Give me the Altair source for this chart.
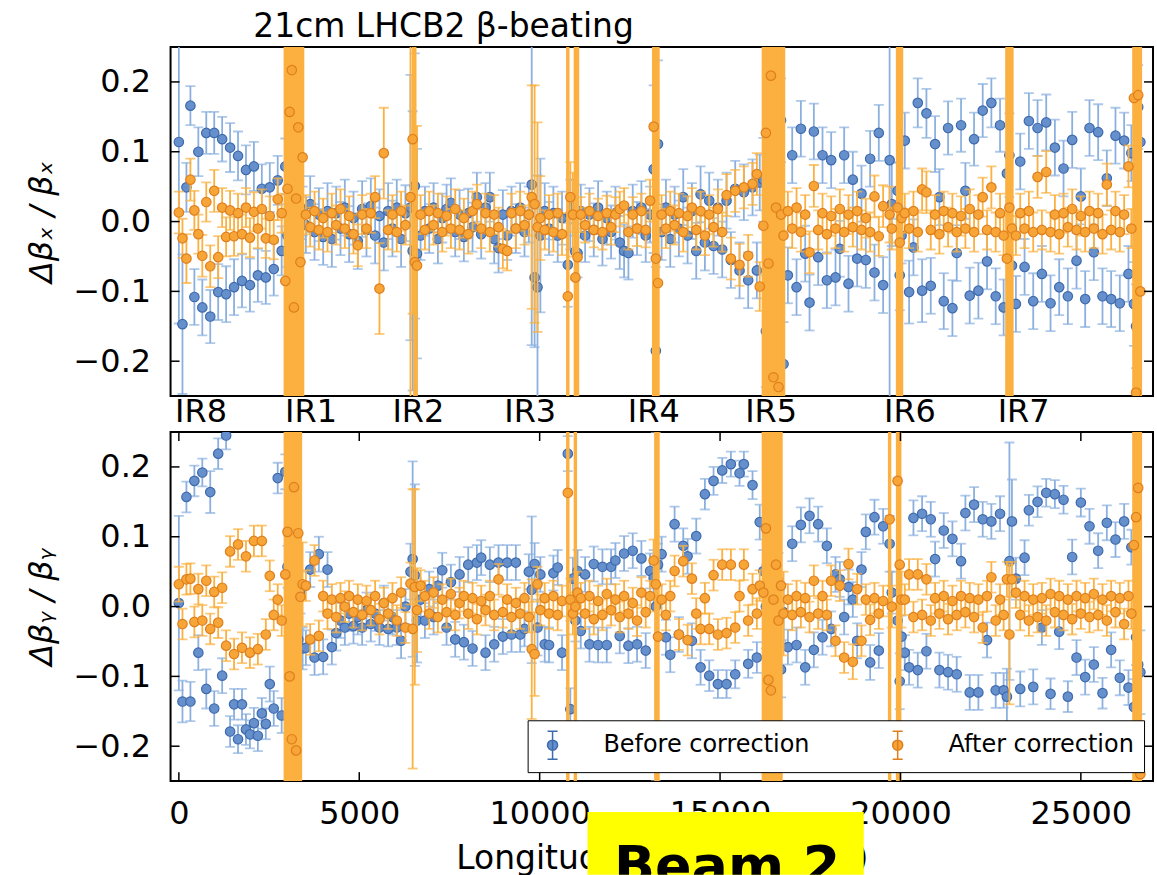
import altair as alt
import pandas as pd

FONT = "DejaVu Sans"

# BPM longitudinal positions (m), grouped by region
S = [
    # arc IR8 -> IR1
    0, 100, 210, 320, 430, 540, 650, 760, 870, 980, 1090, 1200, 1310, 1420, 1530, 1640, 1750, 1860, 1970, 2080, 2190, 2300, 2410, 2520, 2630, 2740, 2850,
    # IR1
    2950, 3010, 3070, 3130, 3190, 3250, 3310, 3370, 3430,
    # arc 1-2
    3520, 3640, 3760, 3880, 4000, 4120, 4240, 4360, 4480, 4600, 4720, 4840, 4960, 5080, 5200, 5320, 5440, 5560, 5680, 5800, 5920, 6040, 6160, 6280,
    # IR2
    6420, 6480, 6540, 6600,
    # arc 2-3
    6700, 6820, 6940, 7060, 7180, 7300, 7420, 7540, 7660, 7780, 7900, 8020, 8140, 8260, 8380, 8500, 8620, 8740, 8860, 8980, 9100, 9220, 9340, 9460, 9580, 9700, 9780, 9860, 9940, 10020, 10140, 10260, 10380, 10500, 10620,
    # IR3
    10780, 10850, 10920, 10990, 11050,
    # arc 3-4
    11140, 11260, 11380, 11500, 11620, 11740, 11860, 11980, 12100, 12220, 12340, 12460, 12580, 12700, 12820, 12940, 13060,
    # IR4
    13160, 13220, 13280,
    # arc 4-5
    13380, 13500, 13620, 13740, 13860, 13980, 14100, 14220, 14340, 14460, 14580, 14700, 14820, 14940, 15060, 15180, 15300, 15420, 15540, 15660, 15780, 15900, 16020, 16100,
    # IR5
    16200, 16270, 16340, 16410, 16480, 16550, 16620, 16690, 16760,
    # arc 5-6
    16880, 17000, 17120, 17240, 17360, 17480, 17600, 17720, 17840, 17960, 18080, 18200, 18320, 18440, 18560, 18680, 18800, 18920, 19040, 19160, 19280, 19400, 19520,
    # IR6
    19700, 19760, 19920, 19980, 20030,
    # arc 6-7
    20120, 20240, 20360, 20480, 20600, 20720, 20840, 20960, 21080, 21200, 21320, 21440, 21560, 21680, 21800, 21920, 22040, 22160, 22280, 22400, 22520, 22640, 22760, 22860,
    # IR7
    22950, 23020, 23090,
    # arc 7-8
    23200, 23320, 23440, 23560, 23680, 23800, 23920, 24040, 24160, 24280, 24400, 24520, 24640, 24760, 24880, 25000, 25120, 25240, 25360, 25480, 25600, 25720, 25840, 25960, 26080, 26200, 26320, 26400,
    # IR8
    26470, 26530, 26590, 26650,
]

# ---- horizontal plane, before correction (value, error in 1e-3)
BX = [
    0.114, -0.147, 0.049, 0.166, -0.108, 0.100, -0.123, 0.127, -0.136, 0.127, -0.101, 0.118, -0.104, 0.106, -0.094, 0.094, -0.085, 0.074, -0.091, 0.079, -0.077, 0.047, -0.080, 0.049, -0.068, 0.059, -0.042,
    0.079, -0.020, 0.116, 0.084, -0.095, 0.077, -0.096, 0.020, 0.015,
    -0.005, 0.025, -0.015, 0.010, -0.022, 0.015, -0.025, 0.012, -0.010, 0.020, -0.018, 0.005, -0.028, 0.018, -0.012, 0.022, -0.020, 0.008, -0.030, 0.015, -0.010, 0.020, -0.025, 0.012,
    0.020, -0.042, 0.051, -0.046,
    -0.020, 0.015, -0.010, 0.020, -0.025, 0.005, 0.018, 0.027, -0.015, 0.010, -0.022, 0.012, -0.008, 0.035, -0.018, 0.020, 0.035, -0.025, -0.038, 0.010, -0.020, 0.015, -0.010, 0.020, -0.015, 0.010, 0.053, -0.080, -0.094, -0.020, 0.015, -0.010, 0.012, -0.020, 0.005,
    -0.062, 0.010, 0.020, -0.043, -0.045,
    0.015, -0.020, 0.010, -0.012, 0.020, -0.025, 0.005, -0.015, 0.012, -0.030, -0.042, -0.045, 0.015, -0.010, 0.020, -0.020, 0.010,
    0.075, -0.185, 0.111,
    -0.015, 0.020, -0.025, 0.010, -0.010, 0.035, -0.020, 0.015, -0.042, 0.039, -0.030, 0.030, -0.035, 0.020, -0.040, 0.030, -0.055, 0.047, -0.070, 0.042, -0.084, 0.049, -0.070, 0.056,
    0.060, -0.157, 0.020, -0.247, -0.030, 0.154, -0.187, 0.145, -0.204,
    -0.077, 0.095, -0.094, 0.133, -0.046, -0.116, 0.129, -0.051, 0.095, -0.084, 0.088, -0.080, -0.039, 0.095, -0.089, 0.060, -0.053, 0.040, -0.055, 0.090, -0.073, 0.127, -0.091,
    0.088, 0.025, 0.044, -0.077, -0.020,
    0.116, -0.101, -0.037, 0.170, -0.099, 0.155, -0.092, 0.111, 0.035, -0.114, 0.134, -0.124, -0.045, 0.138, 0.044, -0.106, 0.118, -0.099, 0.159, -0.057, 0.170, -0.107, 0.138, -0.123,
    0.069, 0.095, -0.063,
    -0.118, 0.086, -0.065, 0.144, -0.114, 0.134, -0.075, 0.142, -0.117, 0.106, -0.094, 0.076, -0.107, 0.117, -0.056, 0.036, -0.111, 0.134, -0.044, 0.128, -0.107, 0.062, -0.111, 0.123, -0.117, 0.116, -0.075, 0.098,
    -0.118, -0.150, 0.164, 0.114,
]
BX_ERR = [
    260, 100, 35, 28, 40, 35, 40, 30, 38, 30, 40, 32, 40, 35, 40, 35, 38, 35, 38, 35, 38, 35, 38, 35, 38, 35, 35,
    40, 45, 60, 50, 60, 45, 50, 45, 35,
    40, 40, 40, 38, 40, 40, 40, 38, 38, 40, 40, 38, 40, 40, 38, 40, 40, 38, 40, 40, 40, 40, 40, 40,
    190, 200, 190, 150,
    35, 35, 35, 35, 35, 35, 35, 35, 35, 35, 35, 35, 35, 35, 35, 35, 35, 35, 35, 35, 35, 35, 35, 35, 35, 40, 230, 100, 160, 110, 40, 38, 38, 38, 38,
    60, 50, 40, 40, 35,
    38, 38, 38, 38, 38, 38, 38, 38, 38, 38, 38, 38, 38, 38, 38, 38, 40,
    120, 120, 120,
    40, 40, 40, 40, 40, 40, 40, 40, 40, 40, 40, 40, 40, 40, 40, 40, 40, 40, 40, 40, 40, 40, 40, 40,
    60, 80, 80, 60, 60, 80, 70, 60, 60,
    40, 40, 40, 40, 40, 40, 40, 40, 40, 40, 40, 40, 40, 40, 40, 40, 40, 40, 40, 40, 40, 40, 40,
    500, 60, 40, 50, 40,
    40, 45, 40, 35, 45, 35, 40, 40, 40, 40, 38, 40, 40, 38, 40, 40, 38, 40, 38, 40, 35, 40, 38, 40,
    400, 60, 60,
    40, 40, 40, 40, 40, 40, 40, 40, 40, 40, 40, 40, 40, 40, 40, 40, 40, 40, 40, 40, 40, 40, 40, 40, 40, 40, 40, 40,
    60, 60, 60, 500,
]

# ---- horizontal plane, after correction
AX = [
    0.013, -0.024, -0.053, 0.060, 0.016, -0.018, -0.049, 0.028, -0.064, 0.044, -0.051, 0.020, -0.022, 0.016, -0.021, 0.012, -0.018, 0.020, -0.023, 0.014, -0.010, 0.018, -0.024, 0.008, -0.026, 0.032, 0.012,
    -0.085, 0.047, 0.157, 0.217, -0.123, 0.033, 0.135, -0.058, 0.092,
    0.010, -0.008, 0.015, -0.012, 0.005, -0.015, 0.012, -0.005, 0.018, -0.010, 0.008, -0.018, -0.034, 0.010, -0.010, 0.012, 0.035, -0.096, 0.098, -0.012, 0.010, -0.015, 0.015, -0.005,
    0.035, 0.118, -0.058, -0.063,
    0.010, -0.012, 0.015, -0.005, 0.012, -0.015, 0.008, -0.010, 0.018, -0.012, 0.005, -0.018, 0.015, 0.025, -0.010, 0.012, -0.015, 0.010, -0.008, -0.039, -0.042, 0.012, -0.010, 0.015, -0.005, 0.010, 0.035, 0.025, -0.008, 0.005, -0.012, 0.010, -0.015, 0.012, -0.018,
    -0.107, 0.035, 0.010, -0.080, -0.051,
    0.010, -0.005, 0.015, -0.012, 0.008, -0.015, 0.012, -0.008, 0.010, 0.018, 0.023, -0.015, 0.010, -0.010, 0.015, -0.012, 0.030,
    0.136, -0.053, -0.088,
    0.010, -0.010, 0.015, -0.005, 0.012, -0.015, 0.008, 0.020, -0.012, 0.015, -0.020, 0.010, -0.008, 0.018, -0.015, 0.038, -0.053, 0.044, -0.062, 0.049, -0.049, 0.054, 0.068, -0.093,
    -0.006, 0.127, -0.060, 0.209, -0.223, 0.020, -0.237, 0.010, -0.020,
    0.015, -0.010, 0.020, -0.015, 0.010, -0.044, 0.051, -0.012, 0.012, -0.018, 0.008, -0.010, 0.018, -0.015, 0.010, -0.008, 0.015, -0.012, 0.005, -0.015, 0.036, -0.021, 0.022,
    0.010, -0.010, 0.020, -0.030, 0.005,
    0.012, -0.010, 0.015, -0.015, 0.046, 0.042, -0.012, 0.010, -0.018, 0.015, -0.008, 0.012, -0.015, 0.008, -0.010, 0.018, -0.015, 0.010, 0.035, -0.012, 0.049, -0.015, 0.012, -0.020,
    -0.053, 0.020, -0.010,
    -0.020, 0.012, -0.010, 0.015, -0.015, 0.064, -0.012, 0.071, -0.015, 0.010, -0.018, 0.012, -0.008, 0.018, -0.012, 0.008, -0.015, 0.015, -0.010, 0.012, -0.018, 0.053, -0.012, 0.015, -0.015, 0.010, 0.079, -0.010,
    0.177, -0.245, 0.181, -0.100,
]
AX_ERR = [
    30, 28, 35, 30, 28, 28, 30, 28, 30, 30, 30, 28, 28, 28, 28, 28, 28, 28, 28, 28, 28, 28, 28, 28, 28, 30, 28,
    900, 900, 900, 900, 900, 900, 900, 900, 900,
    28, 28, 28, 28, 28, 28, 28, 28, 28, 28, 28, 28, 30, 28, 28, 28, 30, 65, 65, 28, 28, 28, 28, 28,
    300, 250, 500, 200,
    28, 28, 28, 28, 28, 28, 28, 28, 28, 28, 28, 28, 28, 28, 28, 28, 28, 28, 28, 28, 28, 28, 28, 28, 28, 30, 160, 170, 150, 60, 28, 28, 28, 28, 30,
    900, 50, 60, 900, 900,
    25, 25, 25, 25, 25, 25, 25, 25, 25, 25, 25, 25, 25, 25, 25, 25, 30,
    900, 900, 900,
    28, 28, 28, 28, 28, 28, 28, 28, 28, 28, 28, 28, 28, 28, 28, 30, 30, 30, 30, 30, 30, 30, 30, 35,
    900, 900, 900, 900, 900, 900, 900, 900, 900,
    28, 28, 28, 28, 28, 30, 30, 28, 28, 28, 28, 28, 28, 28, 28, 28, 28, 28, 28, 28, 30, 28, 30,
    40, 30, 900, 900, 900,
    28, 28, 28, 28, 30, 30, 28, 28, 28, 28, 28, 28, 28, 28, 28, 28, 28, 28, 28, 28, 30, 28, 28, 28,
    900, 900, 900,
    28, 28, 28, 28, 28, 30, 28, 30, 28, 28, 28, 28, 28, 28, 28, 28, 28, 28, 28, 28, 28, 30, 28, 28, 28, 28, 30, 28,
    900, 900, 900, 900,
]

# ---- vertical plane, before correction
BY = [
    0.005, -0.136, 0.157, -0.136, 0.180, -0.066, 0.192, -0.118, 0.164, -0.146, 0.219, -0.099, 0.245, -0.179, -0.140, -0.190, -0.140, -0.176, -0.183, -0.167, -0.185, -0.153, -0.168, -0.111, -0.146, 0.184, -0.156,
    0.193, 0.057, 0.228, -0.086, 0.240, -0.073, -0.047, 0.020, -0.060,
    -0.059, 0.053, -0.073, 0.075, -0.072, 0.053, -0.058, -0.038, -0.020, -0.030, -0.010, -0.028, -0.015, -0.030, -0.005, -0.025, -0.010, -0.030, 0.005, -0.032, -0.015, -0.030, -0.049, 0.000,
    0.050, 0.068, 0.045, -0.020,
    0.010, -0.020, 0.025, -0.015, 0.030, 0.052, -0.030, 0.035, -0.047, 0.046, -0.051, 0.060, -0.060, 0.063, 0.070, -0.066, 0.060, -0.054, 0.063, -0.043, 0.063, -0.040, 0.063, -0.040, -0.032, 0.050, 0.024, 0.061, -0.030, 0.046, -0.054, -0.055, 0.048, 0.056, -0.066,
    0.219, -0.147, 0.040, -0.020, 0.051,
    -0.035, 0.046, -0.054, 0.061, -0.055, 0.057, -0.055, 0.057, 0.066, -0.042, 0.076, -0.056, 0.080, -0.054, 0.069, -0.063, 0.051,
    0.041, 0.000, 0.060,
    0.075, -0.044, -0.069, 0.118, -0.040, 0.087, 0.072, -0.049, 0.101, -0.087, 0.161, -0.099, 0.180, -0.111, 0.195, -0.111, 0.204, -0.097, 0.191, 0.204, -0.082, 0.174, -0.073, 0.121,
    0.051, 0.000, 0.118, -0.030, 0.020, -0.050, 0.037, -0.090, -0.008,
    -0.058, 0.090, -0.055, 0.117, -0.087, 0.130, -0.062, 0.118, -0.044, 0.087, -0.032, 0.046, 0.039, -0.015, 0.028, 0.010, -0.049, 0.053, 0.107, -0.080, 0.128, -0.063, 0.115,
    0.090, 0.020, -0.020, -0.107, -0.043,
    -0.066, -0.087, 0.127, -0.091, 0.133, -0.064, 0.125, 0.068, -0.091, 0.109, -0.094, 0.097, -0.097, 0.065, 0.134, -0.123, 0.146, -0.123, 0.125, -0.048, 0.122, -0.120, 0.133, -0.120,
    -0.129, 0.065, 0.122,
    0.040, -0.118, 0.070, 0.138, -0.115, 0.150, -0.030, 0.163, -0.125, 0.161, -0.036, 0.153, -0.129, 0.071, -0.073, 0.149, -0.101, 0.115, -0.083, 0.080, -0.124, 0.120, -0.062, 0.096, -0.102, 0.122, -0.116, 0.085,
    -0.144, -0.044, -0.083, -0.094,
]
BY_ERR = [
    125, 30, 22, 28, 22, 25, 20, 28, 30, 25, 22, 25, 20, 22, 22, 20, 22, 22, 20, 22, 22, 22, 22, 25, 25, 22, 25,
    25, 30, 30, 40, 30, 35, 30, 30, 30,
    25, 25, 25, 25, 25, 25, 25, 25, 25, 25, 25, 25, 25, 25, 25, 25, 25, 25, 25, 25, 25, 25, 25, 25,
    40, 140, 130, 60,
    25, 25, 25, 25, 25, 25, 25, 25, 25, 25, 25, 25, 25, 25, 25, 25, 25, 25, 25, 25, 25, 25, 25, 25, 25, 25, 105, 30, 40, 25, 25, 25, 25, 25, 25,
    25, 30, 30, 30, 30,
    25, 25, 25, 25, 25, 25, 25, 25, 25, 25, 25, 25, 25, 25, 25, 25, 25,
    40, 250, 30,
    25, 25, 25, 25, 25, 25, 25, 25, 25, 25, 22, 22, 20, 20, 18, 20, 18, 20, 18, 18, 20, 20, 22, 25,
    30, 60, 30, 60, 60, 60, 40, 40, 40,
    25, 25, 25, 25, 25, 25, 25, 25, 25, 25, 25, 25, 25, 25, 25, 25, 25, 25, 25, 25, 25, 25, 25,
    40, 30, 200, 40, 30,
    25, 25, 25, 25, 25, 25, 25, 25, 25, 25, 25, 25, 25, 25, 25, 25, 25, 25, 25, 25, 25, 25, 25, 25,
    40, 170, 60,
    30, 25, 25, 22, 25, 22, 25, 20, 22, 20, 25, 20, 22, 25, 25, 20, 25, 25, 25, 25, 22, 25, 25, 25, 25, 25, 25, 25,
    40, 40, 500, 60,
]

# ---- vertical plane, after correction
AY = [
    0.032, -0.025, 0.039, 0.040, -0.022, 0.025, -0.020, 0.037, -0.032, 0.021, -0.023, 0.027, -0.056, 0.079, -0.068, 0.089, -0.059, 0.072, -0.066, 0.094, -0.061, 0.094, -0.040, 0.044, -0.012, 0.010, -0.020,
    0.046, 0.107, -0.100, -0.190, 0.171, -0.206, 0.105, 0.014, 0.032,
    0.030, -0.047, 0.066, -0.042, 0.015, -0.010, 0.010, -0.015, 0.012, 0.000, 0.015, -0.008, 0.010, -0.012, 0.008, -0.005, 0.015, -0.018, 0.005, -0.010, 0.012, -0.020, 0.020, -0.030,
    0.033, -0.032, 0.028, -0.005,
    0.030, 0.015, -0.010, 0.020, -0.015, 0.010, -0.008, 0.018, -0.012, 0.005, 0.015, -0.010, 0.012, -0.018, 0.008, -0.005, 0.015, -0.012, 0.039, -0.008, 0.010, -0.015, 0.005, -0.010, 0.012, -0.015, -0.061, -0.068, 0.032, -0.005, 0.012, -0.010, 0.015, -0.012, 0.008,
    0.163, 0.010, -0.010, 0.000, 0.020,
    0.012, -0.010, 0.015, -0.018, 0.008, -0.012, 0.018, -0.005, 0.010, -0.015, 0.015, -0.010, 0.005, -0.020, 0.020, -0.008, 0.015,
    0.066, 0.032, -0.043,
    0.010, -0.012, 0.015, 0.051, -0.040, 0.065, -0.048, 0.040, -0.010, -0.032, 0.012, -0.032, 0.045, -0.040, 0.060, -0.038, 0.060, -0.030, 0.015, 0.060, -0.020, 0.025, -0.010, 0.030,
    0.020, 0.112, -0.105, -0.120, 0.010, 0.060, -0.020, 0.030, -0.010,
    0.010, -0.012, 0.015, -0.008, 0.012, -0.015, 0.037, -0.010, 0.015, -0.012, 0.037, -0.049, 0.030, -0.073, 0.061, -0.079, 0.025, -0.049, 0.010, -0.019, 0.012, -0.010, 0.008,
    0.125, 0.000, 0.180, 0.060, 0.010,
    0.010, 0.046, -0.015, 0.046, -0.012, 0.039, -0.020, 0.012, -0.010, 0.015, -0.018, 0.008, -0.012, 0.015, -0.008, 0.012, -0.015, 0.010, -0.030, 0.015, 0.042, -0.020, 0.010, -0.012,
    0.039, -0.040, 0.039,
    0.020, -0.012, 0.015, -0.020, 0.010, -0.015, 0.012, -0.020, 0.018, -0.008, 0.015, -0.012, 0.010, -0.018, 0.015, -0.010, 0.012, -0.015, 0.018, -0.012, 0.010, -0.020, 0.015, -0.008, 0.012, -0.025, 0.015, -0.010,
    0.088, 0.128, 0.170, -0.240,
]
AY_ERR = [
    25, 22, 22, 22, 22, 22, 22, 22, 22, 22, 22, 22, 22, 22, 22, 22, 22, 22, 22, 22, 22, 22, 22, 22, 22, 22, 22,
    900, 900, 900, 900, 900, 900, 900, 900, 60,
    22, 22, 22, 22, 22, 22, 22, 22, 22, 22, 22, 22, 22, 22, 22, 22, 22, 22, 22, 22, 22, 22, 22, 22,
    30, 200, 140, 60,
    22, 22, 22, 22, 22, 22, 22, 22, 22, 22, 22, 22, 22, 22, 22, 22, 22, 22, 22, 22, 22, 22, 22, 22, 22, 22, 100, 60, 25, 22, 22, 22, 22, 22, 22,
    900, 30, 30, 900, 30,
    22, 22, 22, 22, 22, 22, 22, 22, 22, 22, 22, 22, 22, 22, 22, 22, 22,
    30, 900, 900,
    22, 22, 22, 22, 22, 22, 22, 22, 22, 22, 22, 22, 22, 22, 22, 22, 22, 22, 22, 22, 22, 22, 22, 22,
    900, 900, 900, 900, 900, 900, 900, 900, 60,
    22, 22, 22, 22, 22, 22, 22, 22, 22, 22, 22, 22, 22, 22, 22, 25, 22, 22, 22, 22, 22, 22, 22,
    900, 30, 900, 900, 40,
    22, 22, 22, 22, 22, 22, 22, 22, 22, 22, 22, 22, 22, 22, 22, 22, 22, 22, 22, 22, 22, 22, 22, 22,
    25, 100, 25,
    22, 22, 22, 22, 22, 22, 22, 22, 22, 22, 22, 22, 22, 22, 22, 22, 22, 22, 22, 22, 22, 22, 22, 22, 22, 22, 22, 22,
    900, 900, 900, 900,
]

IR_POS = [600, 3650, 6625, 9725, 13150, 16400, 20250, 23400]
IR_NAMES = ["IR8", "IR1", "IR2", "IR3", "IR4", "IR5", "IR6", "IR7"]
X_TICKS = [0, 5000, 10000, 15000, 20000, 25000]
Y_TICKS = [-0.2, -0.1, 0.0, 0.1, 0.2]
SERIES = ["Before correction", "After correction"]

BLUE_FILL, BLUE_EDGE, BLUE_BAR = "#6690cc", "#3e6aae", "#8bb0df"
ORANGE_FILL, ORANGE_EDGE, ORANGE_BAR = "#f7a537", "#df7f1c", "#fbb03f"

W, H = 985, 350
TICK = 9
XS = alt.Scale(domain=[-230, 27000], nice=False, zero=False)
YS = alt.Scale(domain=[-0.25, 0.25], nice=False, zero=False)
FILL_SCALE = alt.Scale(domain=SERIES, range=[BLUE_FILL, ORANGE_FILL])
EDGE_SCALE = alt.Scale(domain=SERIES, range=[BLUE_EDGE, ORANGE_EDGE])


def make_frame(vals, errs, label):
    assert len(vals) == len(S) and len(errs) == len(S), (label, len(S), len(vals), len(errs))
    df = pd.DataFrame({"s": S, "v": vals, "e": [e / 1000.0 for e in errs]})
    df["lo"] = df["v"] - df["e"]
    df["hi"] = df["v"] + df["e"]
    df["series"] = label
    return df


def caps_of(df):
    a = df[["s", "lo"]].rename(columns={"lo": "c"})
    b = df[["s", "hi"]].rename(columns={"hi": "c"})
    return pd.concat([a, b], ignore_index=True)


def y_axis(title):
    return alt.Axis(values=Y_TICKS, format=".1f", title=title, titleFont=FONT, titleFontSize=32,
                    titleFontStyle="italic", titleFontWeight="normal", titleColor="black",
                    titlePadding=15, labelPadding=20, labelFont=FONT, labelFontSize=32,
                    labelColor="black", ticks=False, tickSize=0, domain=False, grid=False)


IR_EXPR = " : ".join(f"datum.value == {p} ? '{n}'" for p, n in zip(IR_POS, IR_NAMES)) + " : ''"

TOP_X_AXIS = alt.Axis(values=IR_POS, labelExpr=IR_EXPR, title="", ticks=False, tickSize=0,
                      domain=False, grid=False, labelPadding=0, labelFont=FONT, labelFontSize=32,
                      labelColor="black", labelAngle=0)
BOTTOM_X_AXIS = alt.Axis(values=X_TICKS, format="d", title="Longitudinal location (m)",
                         titleFont=FONT, titleFontSize=33, titleFontWeight="normal",
                         titleColor="black", titlePadding=14, ticks=False, tickSize=0,
                         domain=False, grid=False, labelPadding=17, labelFont=FONT,
                         labelFontSize=32, labelColor="black", labelAngle=0)

ERR_SYMBOL = ("M0,-1V1M-0.36,-1H0.36M-0.36,1H0.36"
              "M0.36,0A0.36,0.36,0,1,1,-0.36,0A0.36,0.36,0,1,1,0.36,0Z")

LEGEND = alt.Legend(title=None, orient="none", legendX=358, legendY=289, direction="horizontal",
                    columns=2, columnPadding=73, labelOffset=36, labelFont=FONT,
                    labelFontSize=24, labelColor="black", labelLimit=400,
                    symbolType=ERR_SYMBOL, symbolSize=784, symbolStrokeWidth=1.5,
                    padding=10, fillColor="white", strokeColor="black")


def panel(df_b, df_a, ytitle, xaxis, with_legend, x_ticks):
    ya = y_axis(ytitle)
    layers = []
    for df, bar, wide in ((df_b, BLUE_BAR, 1.8), (df_a, ORANGE_BAR, 3.4)):
        layers.append(
            alt.Chart(df).mark_rule(clip=True, color=bar).encode(
                x=alt.X("s:Q", scale=XS, axis=xaxis),
                y=alt.Y("lo:Q", scale=YS, axis=ya),
                y2="hi:Q",
                strokeWidth=alt.condition("datum.e > 0.3", alt.value(wide), alt.value(1.8)),
            )
        )
        layers.append(
            alt.Chart(caps_of(df)).mark_tick(clip=True, color=bar, orient="horizontal",
                                             size=10, thickness=1.8).encode(
                x=alt.X("s:Q", scale=XS, axis=xaxis),
                y=alt.Y("c:Q", scale=YS, axis=ya),
            )
        )
        leg = LEGEND if with_legend else None
        layers.append(
            alt.Chart(df).mark_circle(clip=True, size=90, strokeWidth=1.2, opacity=1).encode(
                x=alt.X("s:Q", scale=XS, axis=xaxis),
                y=alt.Y("v:Q", scale=YS, axis=ya),
                fill=alt.Fill("series:N", scale=FILL_SCALE, legend=leg),
                stroke=alt.Stroke("series:N", scale=EDGE_SCALE, legend=leg),
            )
        )
    yt = pd.DataFrame({"t": Y_TICKS})
    for x0, x1 in ((0, TICK), (W - TICK, W)):
        layers.append(
            alt.Chart(yt).mark_rule(color="black", strokeWidth=1.5).encode(
                y=alt.Y("t:Q", scale=YS, axis=ya), x=alt.value(x0), x2=alt.value(x1)
            )
        )
    if x_ticks:
        xt = pd.DataFrame({"t": X_TICKS})
        for y0, y1 in ((0, TICK), (H - TICK, H)):
            layers.append(
                alt.Chart(xt).mark_rule(color="black", strokeWidth=1.5).encode(
                    x=alt.X("t:Q", scale=XS, axis=xaxis), y=alt.value(y0), y2=alt.value(y1)
                )
            )
    return alt.layer(*layers).properties(width=W, height=H)


dfbx = make_frame(BX, BX_ERR, SERIES[0])
dfax = make_frame(AX, AX_ERR, SERIES[1])
dfby = make_frame(BY, BY_ERR, SERIES[0])
dfay = make_frame(AY, AY_ERR, SERIES[1])

top = panel(dfbx, dfax, "Δβₓ / βₓ", TOP_X_AXIS, False, False).properties(
    title=alt.TitleParams(text="21cm LHCB2 β-beating", anchor="start", frame="group", dx=83,
                          offset=-23, baseline="alphabetic", font=FONT, fontSize=33,
                          fontWeight="normal", color="black")
)
bottom = panel(dfby, dfay, "Δβᵧ / βᵧ", BOTTOM_X_AXIS, True, True)

beam_df = pd.DataFrame({"label": ["Beam 2"]})
beam_rect = alt.Chart(beam_df).mark_rect(color="#ffff00").encode(
    x=alt.value(418), x2=alt.value(695), y=alt.value(-5), y2=alt.value(58)
)
beam_text = alt.Chart(beam_df).mark_text(clip=True, font=FONT, fontSize=54, fontWeight="bold",
                                         color="black", align="center",
                                         baseline="alphabetic").encode(
    x=alt.value(558), y=alt.value(67), text="label:N"
)
beam = alt.layer(beam_rect, beam_text).properties(
    width=W, height=58, view=alt.ViewBackground(stroke="transparent", strokeWidth=0)
)

chart = (
    alt.vconcat(top, bottom, beam, spacing=36, bounds="flush")
    .resolve_scale(fill="independent", stroke="independent")
    .resolve_legend(fill="independent", stroke="independent")
    .properties(padding={"left": 24, "top": 9, "right": 2, "bottom": 0})
    .configure(font=FONT)
    .configure_view(stroke="black", strokeWidth=2)
)

chart.save("out.html", embed_options={"renderer": "svg", "actions": False})
